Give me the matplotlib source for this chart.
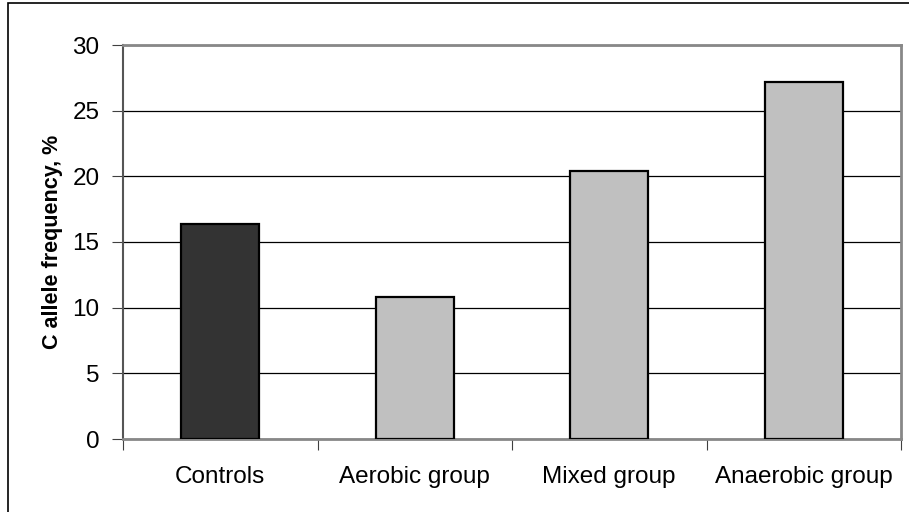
import matplotlib.pyplot as plt
import matplotlib.patches as patches
import numpy as np

plt.rcParams['font.family'] = ['Liberation Sans', 'DejaVu Sans']

# データ
groups = ['Controls', 'Aerobic group', 'Mixed group', 'Anaerobic group']
freq = [16.4, 10.8, 20.4, 27.2]
colors = ['#333333', '#c0c0c0', '#c0c0c0', '#c0c0c0']
yticks = [0, 5, 10, 15, 20, 25, 30]

fig = plt.figure(figsize=(9.09, 5.12), dpi=100)
ax = fig.add_axes([123 / 909, 73 / 512, 778 / 909, 394 / 512])

x = np.arange(len(groups))
ax.bar(x, freq, width=0.4, color=colors, edgecolor='black', linewidth=1.6, zorder=3)

ax.set_xlim(-0.5, len(groups) - 0.5)
ax.set_ylim(0, 30)
ax.set_yticks(yticks)
ax.grid(True, axis='y', color='black', lw=0.9, zorder=0)

# 区切りの目盛りは境界、ラベルは棒の中央
ax.set_xticks(np.arange(len(groups) + 1) - 0.5)
ax.set_xticklabels([])
ax.set_xticks(x, minor=True)
ax.set_xticklabels(groups, minor=True)
ax.tick_params(axis='x', which='major', direction='out', length=8, color='#404040')
ax.tick_params(axis='x', which='minor', length=0, pad=19.5, labelsize=17.5)
ax.tick_params(axis='y', direction='out', length=8, color='#404040', pad=9, labelsize=17.5)

for s in ['top', 'right', 'bottom']:
    ax.spines[s].set_color('#888888')
    ax.spines[s].set_linewidth(2)
ax.spines['left'].set_color('#555555')
ax.spines['left'].set_linewidth(1.5)

ax.set_ylabel('C allele frequency, %', fontsize=15.5, fontweight='bold', labelpad=7)

# 外枠
fig.patches.append(patches.Rectangle((8 / 909, -0.1), 1.2, (509 / 512) + 0.1,
                                     transform=fig.transFigure, fill=False,
                                     edgecolor='black', lw=1.2))

fig.savefig('out.png', dpi=100)
